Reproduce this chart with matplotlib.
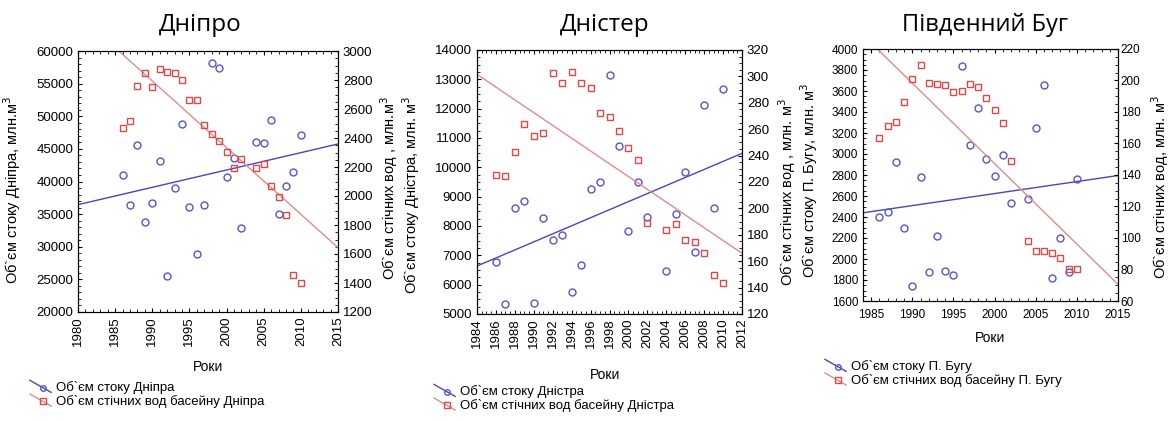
import matplotlib
matplotlib.use("Agg")
from matplotlib import pyplot as plt
from matplotlib.lines import Line2D
from matplotlib.legend_handler import HandlerLine2D
from matplotlib.ticker import MultipleLocator

plt.rcParams['font.family'] = ['Liberation Sans', 'DejaVu Sans']

# роки спостережень (2003 відсутній)
years = list(range(1986, 2003)) + list(range(2004, 2011))

# Дніпро
dnipro_flow = [41000, 36400, 45650, 33840, 36700, 43090, 25500, 38950, 48760, 36090,
               28940, 36400, 58210, 57400, 40690, 43650, 32920,
               46100, 45900, 49370, 35070, 39310, 41460, 47180]
dnipro_waste = [2469, 2520, 2759, 2851, 2749, 2878, 2855, 2851, 2802, 2660,
                2660, 2492, 2425, 2379, 2301, 2193, 2255,
                2195, 2218, 2069, 1993, 1869, 1457, 1402]
dnipro_trend_x = [1980, 2015]
dnipro_trend_flow = [36450, 45750]
dnipro_trend_waste = [3253, 1644]

# Дністер
dnister_flow = [6761, 5330, 8625, 8864, 5386, 8284, 7523, 7693, 5761, 6682,
                9261, 9489, 13136, 10727, 7830, 9489, 8318,
                6455, 8409, 9841, 7125, 12136, 8625, 12659]
dnister_waste = [225.3, 224.8, 243, 264, 254.8, 257, 302.3, 294.7, 303, 294.7,
                 291, 272.5, 269.5, 258.9, 245.5, 236.7, 189.2,
                 183.4, 188.2, 176.1, 174.5, 166.5, 149.5, 143.7]
dnister_trend_x = [1984, 2012]
dnister_trend_flow = [6636, 10477]
dnister_trend_waste = [301.6, 166]

# Південний Буг
bug_flow = [2402, 2450, 2925, 2297, 1743, 2783, 1876, 2218, 1885, 1844,
            3835, 3081, 3439, 2954, 2795, 2986, 2529,
            2567, 3249, 3661, 1822, 2196, 1879, 2764]
bug_waste = [163.6, 171.4, 173.7, 186.4, 201.2, 209.6, 198.4, 198.0, 197.0, 192.7,
             193.6, 197.8, 195.7, 188.8, 181.1, 173.1, 148.8,
             98.0, 91.7, 91.7, 90.2, 87.1, 80.1, 80.5]
bug_trend_x = [1984, 2015]
bug_trend_flow = [2440, 2795]
bug_trend_waste = [228.9, 70.6]

blue = '#5656c8'
blue_line = '#4646bc'
red = '#e04848'
red_line = '#e08c8c'

W, H = 1171, 421


class DiagHandler(HandlerLine2D):
    # маркер легенди як у Statistica: похила лінія з маркером
    def create_artists(self, legend, orig_handle, xdescent, ydescent,
                       width, height, fontsize, trans):
        x0, x1 = -xdescent, width - xdescent
        y0, y1 = height - ydescent + 1, -ydescent - 1
        ln = Line2D([x0, x1], [y0, y1], color=orig_handle.get_color(), lw=1)
        mk = Line2D([x0 + 0.62 * width], [y0 + 0.62 * (y1 - y0)],
                    marker=orig_handle.get_marker(), ms=orig_handle.get_markersize(),
                    mec=orig_handle.get_markeredgecolor(), mfc='none', mew=1, ls='none')
        ln.set_transform(trans)
        mk.set_transform(trans)
        return [ln, mk]


def px_rect(l, t, r, b):
    return [l / W, 1 - b / H, (r - l) / W, (b - t) / H]


def panel(rect, x, flow, waste, tx, tflow, twaste, xlim, ylim, y2lim,
          xmaj, xmin, ymaj, ymin, y2maj, y2min, rot, fs):
    ax = fig.add_axes(rect)
    ax2 = ax.twinx()
    ax.plot(tx, tflow, color=blue_line, lw=1)
    ax.plot(x, flow, 'o', ms=5, mfc='none', mec=blue, mew=1)
    ax2.plot(tx, twaste, color=red_line, lw=1)
    ax2.plot(x, waste, 's', ms=5, mfc='none', mec=red, mew=1)
    ax.set_xlim(*xlim)
    ax.set_ylim(*ylim)
    ax2.set_ylim(*y2lim)
    ax.xaxis.set_major_locator(MultipleLocator(xmaj))
    ax.xaxis.set_minor_locator(MultipleLocator(xmin))
    ax.yaxis.set_major_locator(MultipleLocator(ymaj))
    ax.yaxis.set_minor_locator(MultipleLocator(ymin))
    ax2.yaxis.set_major_locator(MultipleLocator(y2maj))
    ax2.yaxis.set_minor_locator(MultipleLocator(y2min))
    ax.tick_params(which='both', direction='in', top=True, labelsize=fs)
    ax.tick_params(which='major', length=3, width=0.8)
    ax.tick_params(which='minor', length=2, width=0.6)
    ax2.tick_params(which='both', direction='in', labelsize=fs)
    ax2.tick_params(which='major', length=3, width=0.8)
    ax2.tick_params(which='minor', length=2, width=0.6)
    for lab in ax.get_xticklabels():
        lab.set_rotation(rot)
    for a in (ax, ax2):
        for s in a.spines.values():
            s.set_linewidth(0.8)
    return ax, ax2


fig = plt.figure(figsize=(W / 100, H / 100), dpi=100)

panel(px_rect(78, 51, 338, 312), years, dnipro_flow, dnipro_waste,
      dnipro_trend_x, dnipro_trend_flow, dnipro_trend_waste,
      (1980, 2015), (20000, 60000), (1200, 3000),
      5, 1, 5000, 1000, 200, 50, 90, 9.5)
panel(px_rect(477, 50, 742, 314), years, dnister_flow, dnister_waste,
      dnister_trend_x, dnister_trend_flow, dnister_trend_waste,
      (1984, 2012), (5000, 14000), (120, 320),
      2, 0.5, 1000, 250, 20, 5, 90, 9.5)
ax3, ax3r = panel(px_rect(863, 49, 1118, 301), years, bug_flow, bug_waste,
                  bug_trend_x, bug_trend_flow, bug_trend_waste,
                  (1984, 2015), (1600, 4000), (60, 220),
                  5, 1, 200, 50, 20, 5, 0, 8.5)
ax3.tick_params(axis='x', pad=6)
ax3r.tick_params(axis='y', pad=2)

# заголовки
title_font = ['Open Sans', 'DejaVu Sans']
fig.text(200 / W, 1 - 25 / H, 'Дніпро', fontsize=17.5, family=title_font, ha='center', va='center')
fig.text(605 / W, 1 - 25 / H, 'Дністер', fontsize=17.5, family=title_font, ha='center', va='center')
fig.text(985 / W, 1 - 25 / H, 'Південний Буг', fontsize=17, family=title_font, ha='center', va='center')

# підписи осей
ylabels = [(12, 190, 'Об`єм стоку Дніпра, млн.м$^3$'),
           (389, 188, 'Об`єм стічних вод , млн.м$^3$'),
           (411, 195, 'Об`єм стоку Дністра, млн. м$^3$'),
           (787, 192, 'Об`єм стічних вод , млн. м$^3$'),
           (809, 180, 'Об`єм стоку П. Бугу, млн. м$^3$'),
           (1160, 187, 'Об`єм стічних вод, млн. м$^3$')]
for xp, yp, txt in ylabels:
    fig.text(xp / W, 1 - yp / H, txt, fontsize=10.5, rotation=90, ha='center', va='center')

for xp, yp in [(208, 367), (605, 375), (990, 338)]:
    fig.text(xp / W, 1 - yp / H, 'Роки', fontsize=10, ha='center', va='center')

# легенди
legends = [(30, 381, 'Об`єм стоку Дніпра', 'Об`єм стічних вод басейну Дніпра'),
           (434, 385, 'Об`єм стоку Дністра', 'Об`єм стічних вод басейну Дністра'),
           (825, 360, 'Об`єм стоку П. Бугу', 'Об`єм стічних вод басейну П. Бугу')]
for xp, yp, l1, l2 in legends:
    h1 = Line2D([], [], color=blue_line, marker='o', ms=4, mec=blue)
    h2 = Line2D([], [], color=red_line, marker='s', ms=4, mec=red)
    fig.legend([h1, h2], [l1, l2], loc='upper left',
               bbox_to_anchor=(xp / W, 1 - yp / H), frameon=False,
               fontsize=9.5, borderpad=0, borderaxespad=0, labelspacing=0.05,
               handlelength=1.6, handletextpad=0.4,
               handler_map={Line2D: DiagHandler()})

plt.savefig('out.png', dpi=100)
